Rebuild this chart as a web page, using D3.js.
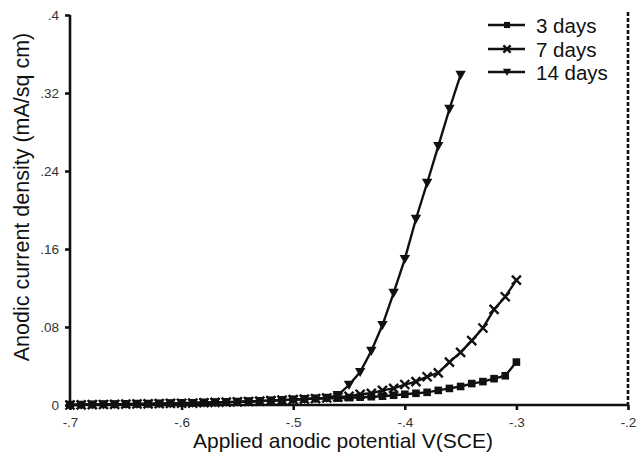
<!DOCTYPE html>
<html><head><meta charset="utf-8">
<script src="https://cdn.jsdelivr.net/npm/d3@7"></script>
<style>body{margin:0;background:#fff;} svg{display:block;}</style>
</head><body>
<svg id="chart" width="642" height="452"></svg>
<script>
const potentials = [-0.70,-0.69,-0.68,-0.67,-0.66,-0.65,-0.64,-0.63,-0.62,-0.61,-0.60,-0.59,-0.58,-0.57,-0.56,-0.55,-0.54,-0.53,-0.52,-0.51,-0.50,-0.49,-0.48,-0.47,-0.46,-0.45,-0.44,-0.43,-0.42,-0.41,-0.40,-0.39,-0.38,-0.37,-0.36,-0.35,-0.34,-0.33,-0.32,-0.31,-0.30];
const baseLow = [0.0000,0.0002,0.0004,0.0005,0.0007,0.0009,0.0010,0.0012,0.0014,0.0016,0.0018,0.0020,0.0023,0.0026,0.0029,0.0032,0.0036,0.0040,0.0045,0.0050,0.0055,0.0060,0.0066,0.0072];
const days3 = baseLow.concat([0.0070,0.0075,0.0080,0.0085,0.0090,0.0100,0.0110,0.0120,0.0130,0.0150,0.0170,0.0190,0.0220,0.0240,0.0270,0.0300,0.0440]);
const days7 = baseLow.concat([0.0080,0.0090,0.0110,0.0120,0.0150,0.0170,0.0210,0.0240,0.0290,0.0330,0.0440,0.0540,0.0660,0.0790,0.0980,0.1110,0.1280]);
const days14 = baseLow.concat([0.0100,0.0205,0.0338,0.0554,0.0820,0.1149,0.1497,0.1908,0.2277,0.2656,0.3036,0.3385]);
const seriesNames = ["3 days","7 days","14 days"];
const seriesValues = [days3, days7, days14];
const seriesSymbols = ["square","cross","triangle"];
const xTicks = [-0.7,-0.6,-0.5,-0.4,-0.3,-0.2];
const xTickLabels = ["-.7","-.6","-.5","-.4","-.3","-.2"];
const yTicks = [0,0.08,0.16,0.24,0.32,0.4];
const yTickLabels = ["0",".08",".16",".24",".32",".4"];
const xTitle = "Applied anodic potential V(SCE)";
const yTitle = "Anodic current density (mA/sq cm)";

const svg = d3.select("#chart");
const font = "'Liberation Sans', Arial, sans-serif";
const x = d3.scaleLinear().domain([-0.7,-0.2]).range([70,628]);
const y = d3.scaleLinear().domain([0,0.4]).range([405,15]);

// right dashed boundary
svg.append("line").attr("x1",x(-0.2)).attr("x2",x(-0.2)).attr("y1",12).attr("y2",y(0))
  .attr("stroke","#111").attr("stroke-width",2.6).attr("stroke-dasharray","4,2");

// axes
const xAxis = svg.append("g").attr("transform",`translate(0,${y(0)})`)
  .call(d3.axisBottom(x).tickValues(xTicks).tickFormat((d,i)=>xTickLabels[i]).tickSize(5).tickSizeOuter(0));
const yAxis = svg.append("g").attr("transform",`translate(${x(-0.7)},0)`)
  .call(d3.axisLeft(y).tickValues(yTicks).tickFormat((d,i)=>yTickLabels[i]).tickSize(5).tickSizeOuter(0));
[xAxis,yAxis].forEach(g=>{
  g.select(".domain").attr("stroke","#111").attr("stroke-width",2.6);
  g.selectAll(".tick line").attr("stroke","#111").attr("stroke-width",2.6);
  g.selectAll(".tick text").attr("fill","#333").style("font-family",font).style("font-size","13.5px");
});
xAxis.selectAll(".tick text").attr("y",21.5).attr("dy",0);
yAxis.selectAll(".tick text").attr("x",-11);
xAxis.select(".domain").attr("d",`M${x(-0.7)},0H${x(-0.2)}`);
yAxis.select(".domain").attr("d",`M0,${y(0)}V${y(0.4)}`);

// titles
svg.append("text").attr("x",343).attr("y",448).attr("text-anchor","middle")
  .style("font-family",font).style("font-size","21px").attr("fill","#111").text(xTitle);
svg.append("text").attr("transform",`translate(29,197) rotate(-90)`).attr("text-anchor","middle")
  .style("font-family",font).style("font-size","21.5px").attr("fill","#111").text(yTitle);

function drawMarker(g, type, cx, cy, s){
  if(type==="square"){
    g.append("rect").attr("x",cx-3.8*s).attr("y",cy-3.8*s).attr("width",7.6*s).attr("height",7.6*s).attr("fill","#111");
  } else if(type==="cross"){
    const r=4.5*s;
    g.append("path").attr("d",`M${cx-r},${cy-r}L${cx+r},${cy+r}M${cx-r},${cy+r}L${cx+r},${cy-r}`)
      .attr("stroke","#111").attr("stroke-width",2.4);
  } else {
    const r=5.2*s;
    g.append("path").attr("d",`M${cx-r},${cy-r*0.8}L${cx+r},${cy-r*0.8}L${cx},${cy+r*0.95}Z`).attr("fill","#111");
  }
}

const line = d3.line().x(d=>x(d[0])).y(d=>y(d[1]));
seriesValues.forEach((vals,i)=>{
  const pts = vals.map((v,j)=>[potentials[j],v]);
  svg.append("path").datum(pts).attr("d",line).attr("fill","none").attr("stroke","#111").attr("stroke-width",2.4);
  const g = svg.append("g");
  pts.forEach(p=>drawMarker(g, seriesSymbols[i], x(p[0]), y(p[1]), 1));
});

// legend
const legY = [25,49,72];
seriesNames.forEach((n,i)=>{
  const g = svg.append("g");
  g.append("line").attr("x1",488).attr("x2",525).attr("y1",legY[i]).attr("y2",legY[i]).attr("stroke","#111").attr("stroke-width",2.4);
  drawMarker(g, seriesSymbols[i], 507, legY[i], 0.8);
  g.append("text").attr("x",536).attr("y",legY[i]+7.5).style("font-family",font).style("font-size","20.5px").attr("fill","#111").text(n);
});
</script>
</body></html>
